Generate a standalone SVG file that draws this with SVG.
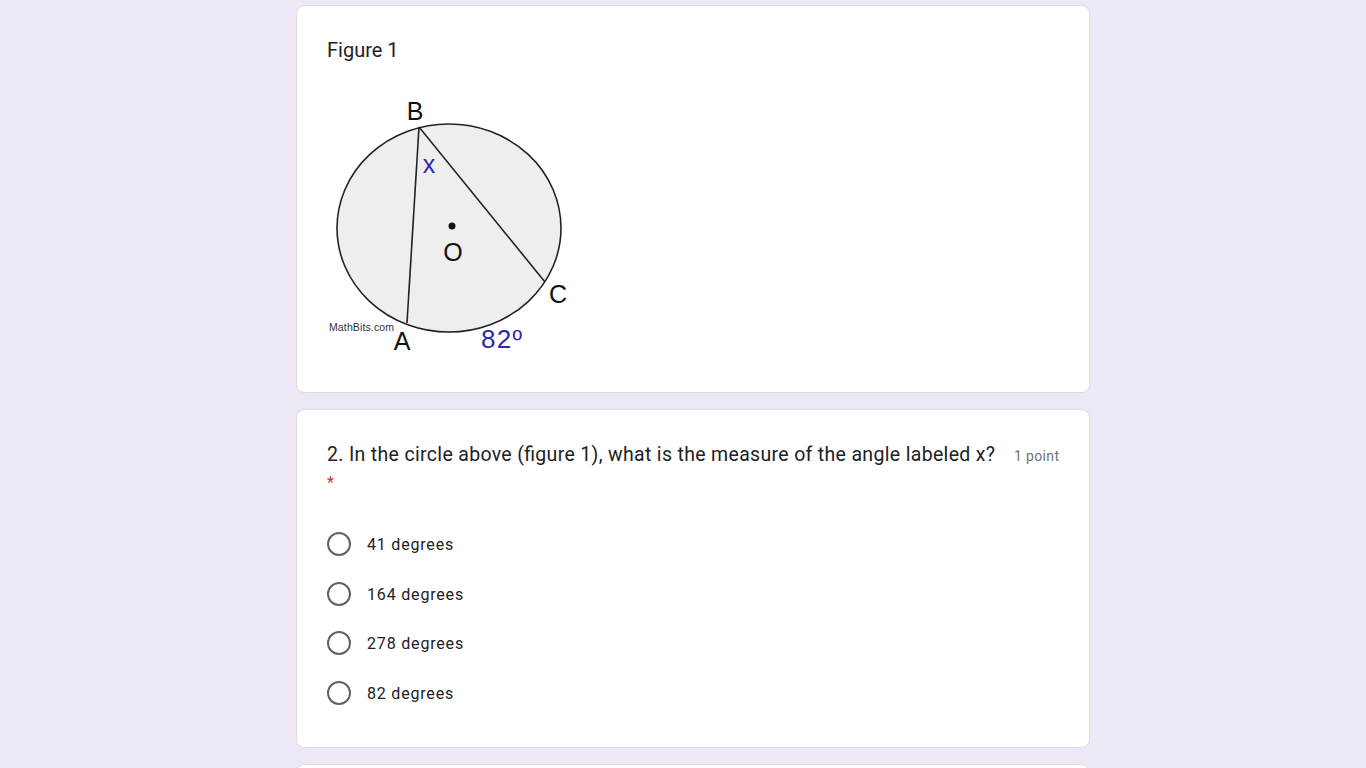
<svg xmlns="http://www.w3.org/2000/svg" width="1366" height="768" viewBox="0 0 1366 768">
<style>
.card{fill:#ffffff;stroke:#dadce0;stroke-width:1}
.t{font-family:Roboto,"Liberation Sans",sans-serif;fill:#202124}
.opt{font-family:Roboto,"Liberation Sans",sans-serif;font-size:16px;fill:#202124;letter-spacing:0.8px}
.radio{fill:none;stroke:#5f6368;stroke-width:2}
.lbl{font-family:"Liberation Sans",Arial,sans-serif;font-size:25px;fill:#111}
.blue{font-family:"Liberation Sans",Arial,sans-serif;fill:#2a2ab0}
.geo{stroke:#222;stroke-width:1.6;fill:none}
</style>
<rect width="1366" height="768" fill="#ede7f6"/>
<g id="card1">
<rect class="card" x="296.5" y="5.5" width="793" height="387" rx="8"/>
<text class="t" x="327" y="57" font-size="20">Figure 1</text>
</g>
<g id="figure">
<ellipse cx="449" cy="228" rx="112" ry="104" fill="#eeeeee" stroke="#222" stroke-width="1.6"/>
<line class="geo" x1="419" y1="127" x2="407" y2="323"/>
<line class="geo" x1="419" y1="127" x2="545" y2="282"/>
<circle cx="452" cy="226" r="3.5" fill="#111"/>
<text class="lbl" x="415" y="120" text-anchor="middle">B</text>
<text class="blue" x="429" y="173" font-size="25" text-anchor="middle">x</text>
<text class="lbl" x="453" y="261" text-anchor="middle">O</text>
<text class="lbl" x="558" y="303" text-anchor="middle">C</text>
<text class="lbl" x="402" y="350" text-anchor="middle">A</text>
<text class="blue" x="481" y="348" font-size="26" textLength="41">82º</text>
<text x="329" y="331" font-family="'Liberation Sans',Arial,sans-serif" font-size="10.5" fill="#333" textLength="65">MathBits.com</text>
</g>
<g id="card2">
<rect class="card" x="296.5" y="409.5" width="793" height="338" rx="8"/>
<text class="t" x="327" y="461" font-size="19.5" textLength="668">2. In the circle above (figure 1), what is the measure of the angle labeled x?</text>
<text x="1014" y="461" font-family="Roboto,'Liberation Sans',sans-serif" font-size="14" fill="#70757a" textLength="45">1 point</text>
<text x="327" y="488" font-family="Roboto,'Liberation Sans',sans-serif" font-size="16" fill="#d93025">*</text>
</g>
<g id="options">
<circle class="radio" cx="339" cy="544" r="11"/>
<text class="opt" x="367" y="550" textLength="87">41 degrees</text>
<circle class="radio" cx="339" cy="594" r="11"/>
<text class="opt" x="367" y="600" textLength="97">164 degrees</text>
<circle class="radio" cx="339" cy="643" r="11"/>
<text class="opt" x="367" y="649" textLength="97">278 degrees</text>
<circle class="radio" cx="339" cy="693" r="11"/>
<text class="opt" x="367" y="699" textLength="87">82 degrees</text>
</g>
<g id="card3">
<rect class="card" x="296.5" y="764.5" width="793" height="40" rx="8"/>
</g>
</svg>
